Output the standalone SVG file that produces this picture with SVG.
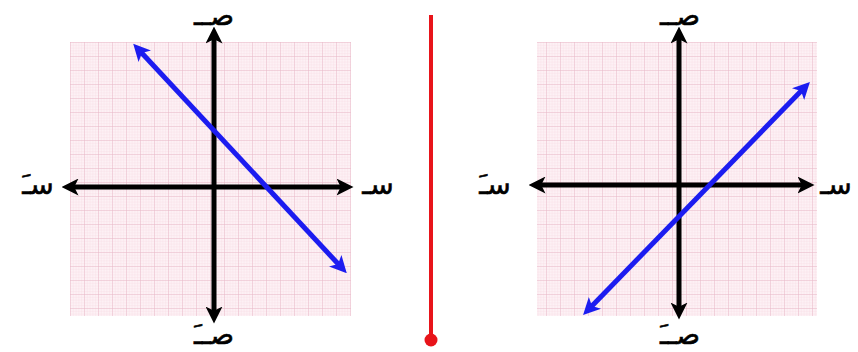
<svg xmlns="http://www.w3.org/2000/svg" width="858" height="352" viewBox="0 0 858 352">
<style>
.axis{stroke:#000;stroke-width:5;fill:none}
.line{stroke:#1c1cf0;stroke-width:5;fill:none}
.lbl{font-family:"DejaVu Sans","Noto Sans",sans-serif;font-size:28px;fill:#000;text-anchor:middle;stroke:#000;stroke-width:0.6}
</style>
<defs>
<pattern id="minor" width="2.8" height="2.8" patternUnits="userSpaceOnUse">
<path d="M0 0H2.8M0 0V2.8" stroke="#f5d6e0" stroke-width="0.6" fill="none"/>
</pattern>
<pattern id="major" width="14" height="14" patternUnits="userSpaceOnUse">
<path d="M0 0H14M0 0V14" stroke="#e6b6c6" stroke-width="0.9" fill="none"/>
</pattern>
<marker id="ah" viewBox="0 0 10 10" refX="5" refY="5" markerWidth="3.4" markerHeight="3.4" orient="auto-start-reverse" markerUnits="strokeWidth">
<path d="M0 0L10 5L0 10L2.5 5Z" fill="#000"/>
</marker>
<marker id="bh" viewBox="0 0 10 10" refX="5" refY="5" markerWidth="3.4" markerHeight="3.4" orient="auto-start-reverse" markerUnits="strokeWidth">
<path d="M0 0L10 5L0 10L2.5 5Z" fill="#1c1cf0"/>
</marker>
</defs>
<rect width="858" height="352" fill="#fff"/>

<g id="graph-left">
<rect x="70" y="42" width="281" height="274" fill="#fdf1f5"/>
<rect x="70" y="42" width="281" height="274" fill="url(#minor)"/>
<rect x="70" y="42" width="281" height="274" fill="url(#major)"/>
</g>
<g id="graph-right">
<rect x="537" y="42" width="280" height="274" fill="#fdf1f5"/>
<rect x="537" y="42" width="280" height="274" fill="url(#minor)"/>
<rect x="537" y="42" width="280" height="274" fill="url(#major)"/>
</g>

<g id="connectors">
<line class="axis" x1="70" y1="187" x2="345" y2="187" marker-start="url(#ah)" marker-end="url(#ah)"/>
<line class="axis" x1="214" y1="35" x2="214" y2="315" marker-start="url(#ah)" marker-end="url(#ah)"/>
<line class="line" x1="139" y1="50" x2="341" y2="267" marker-start="url(#bh)" marker-end="url(#bh)"/>

<line class="axis" x1="537" y1="185" x2="806" y2="185" marker-start="url(#ah)" marker-end="url(#ah)"/>
<line class="axis" x1="679" y1="35" x2="679" y2="311" marker-start="url(#ah)" marker-end="url(#ah)"/>
<line class="line" x1="589" y1="309" x2="804" y2="88" marker-start="url(#bh)" marker-end="url(#bh)"/>
</g>

<g id="divider">
<line x1="431" y1="15" x2="431" y2="338" stroke="#e8141a" stroke-width="4"/>
<circle cx="431" cy="340" r="6.5" fill="#e8141a"/>
</g>

<g id="labels">
<text class="lbl" x="214" y="25">صــ</text>
<text class="lbl" x="214" y="344">صــَ</text>
<text class="lbl" x="38" y="194">سـَ</text>
<text class="lbl" x="378" y="194">سـ</text>
<text class="lbl" x="680" y="25">صــ</text>
<text class="lbl" x="680" y="344">صــَ</text>
<text class="lbl" x="495" y="194">سـَ</text>
<text class="lbl" x="836" y="194">سـ</text>
</g>
</svg>
